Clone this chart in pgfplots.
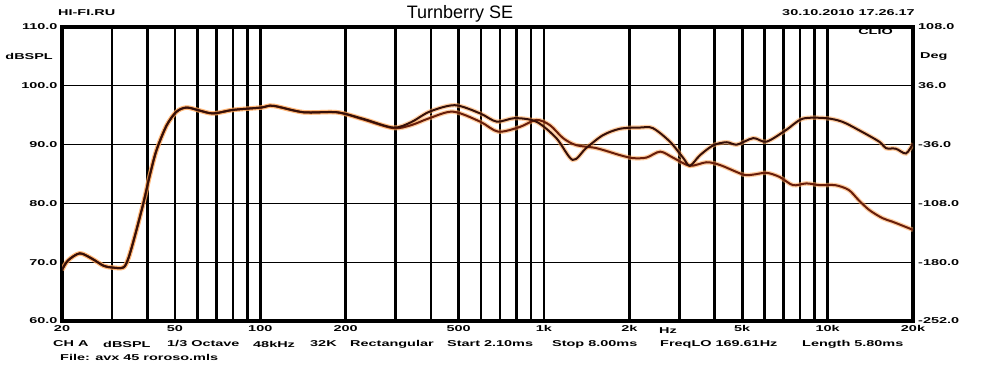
\documentclass[border=0pt]{standalone}
\usepackage{fontspec}
\setmainfont{Liberation Sans}
\newfontfamily\clio[FakeStretch=1.7]{Liberation Sans}
\usepackage{pgfplots}
\pgfplotsset{compat=1.18}
\usepackage{pgfplotstable}

\pgfplotstableread{
f dB
20 68.7
21 70.3
23.1 71.5
25.5 70.6
28 69.4
30 69.1
32.9 69.1
34.3 70.7
36.2 74.6
38.7 80.0
40.8 84.8
43.1 89.1
46.8 93.3
50.7 95.6
55 96.3
61 95.8
68.2 95.3
80.2 95.9
100.7 96.3
111 96.6
142 95.5
186 95.5
230 94.4
294 92.9
340 93.8
395 95.6
485 96.7
596 95.3
682 93.9
790 94.5
940 93.9
1106 91.1
1262 87.4
1408 89.4
1614 91.6
1856 92.7
2178 92.9
2420 92.8
2780 90.5
3100 87.7
3270 86.4
3550 88.2
3960 89.9
4410 90.4
4790 90.0
5470 91.1
6090 90.5
7150 92.5
8160 94.4
9840 94.5
11240 93.9
12840 92.5
15200 90.5
16040 89.4
17400 89.3
18900 88.5
20000 90.2
}\curveA

\pgfplotstableread{
f dB
20 68.7
21 70.3
23.1 71.5
25.5 70.6
28 69.4
30 69.1
32.9 69.1
34.3 70.7
36.2 74.6
38.7 80.0
40.8 84.8
43.1 89.1
46.8 93.3
50.7 95.6
55 96.3
61 95.8
68.2 95.3
80.2 95.9
100.7 96.3
111 96.6
142 95.5
186 95.5
230 94.3
294 92.8
340 93.3
395 94.5
478 95.6
596 93.9
690 92.2
822 93.0
940 94.2
1050 93.3
1168 91.1
1300 89.9
1530 89.4
1856 88.2
2060 87.7
2300 87.8
2570 88.8
2870 87.7
3270 86.4
3750 87.0
4190 86.5
5040 84.9
5470 84.9
6090 85.2
6770 84.5
7550 83.1
8420 83.4
9400 83.1
10640 83.1
11860 82.3
12840 80.6
14000 78.9
15600 77.5
16900 76.9
18400 76.2
20000 75.5
}\curveB

\definecolor{glow}{RGB}{255,165,85}
\definecolor{darkA}{RGB}{55,16,8}
\definecolor{darkB}{RGB}{105,30,10}

\begin{document}
\begin{tikzpicture}
\path[use as bounding box] (-62pt,-54pt) rectangle (921pt,321pt);
\begin{axis}[
  at={(0pt,0pt)}, anchor=south west,
  scale only axis, width=851pt, height=294pt,
  xmode=log, xmin=20, xmax=20000, ymin=60, ymax=110,
  axis line style={line width=4.5pt},
  xtick={20,50,100,200,500,1000,2000,5000,10000,20000},
  xticklabels={20,50,100,200,500,1k,2k,5k,10k,20k},
  minor xtick={30,40,60,70,80,90,300,400,600,700,800,900,3000,4000,6000,7000,8000,9000},
  ytick={60,70,80,90,100,110},
  yticklabels={60.0,70.0,80.0,90.0,100.0,110.0},
  extra y ticks={70,80,90,100},
  extra y tick labels={},
  extra y tick style={grid=major, major grid style={line width=1.3pt, black}},
  xmajorgrids, xminorgrids,
  major grid style={line width=2.6pt, black},
  minor grid style={line width=2.6pt, black},
  major tick length=0pt, minor tick length=0pt,
  tick style={draw=none},
  ticklabel style={font=\clio\bfseries\fontsize{8.5}{9}\selectfont},
  xticklabel style={yshift=-1pt},
  yticklabel style={xshift=-1pt},
  clip=true,
]
\addplot[glow, opacity=0.55, line width=4.5pt, smooth] table[x=f,y=dB] {\curveB};
\addplot[glow, opacity=0.55, line width=4.5pt, smooth] table[x=f,y=dB] {\curveA};
\addplot[darkB, line width=2pt, smooth] table[x=f,y=dB] {\curveB};
\addplot[darkA, line width=2pt, smooth] table[x=f,y=dB] {\curveA};
\end{axis}
\begin{scope}[every node/.style={font=\clio\bfseries\fontsize{8.5}{9}\selectfont, inner sep=0pt}]
% top
\node[anchor=west] at (-4pt,308pt) {HI-FI.RU};
\node[anchor=east] at (853pt,308pt) {30.10.2010 17.26.17};
\node[anchor=east] at (831pt,289pt) {CLIO};
\node[anchor=east] at (-9pt,265pt) {dBSPL};
% right axis
\node[anchor=west] at (856pt,294pt) {108.0};
\node[anchor=west] at (858pt,265pt) {Deg};
\node[anchor=west] at (856pt,235pt) {36.0};
\node[anchor=west] at (856pt,176pt) {-36.0};
\node[anchor=west] at (856pt,117.6pt) {-108.0};
\node[anchor=west] at (856pt,58.8pt) {-180.0};
\node[anchor=west] at (856pt,0pt) {-252.0};
% Hz label
\node at (606pt,-9.5pt) {Hz};
% bottom line
\node[anchor=west] at (-9pt,-23pt) {CH A};
\node[anchor=west] at (41pt,-23pt) {dBSPL};
\node[anchor=west] at (105pt,-23pt) {1/3 Octave};
\node[anchor=west] at (191pt,-23pt) {48kHz};
\node[anchor=west] at (248pt,-23pt) {32K};
\node[anchor=west] at (288pt,-23pt) {Rectangular};
\node[anchor=west] at (385pt,-23pt) {Start 2.10ms};
\node[anchor=west] at (490pt,-23pt) {Stop 8.00ms};
\node[anchor=west] at (598pt,-23pt) {FreqLO 169.61Hz};
\node[anchor=west] at (740pt,-23pt) {Length 5.80ms};
\node[anchor=west] at (-2pt,-36pt) {File: avx 45 roroso.mls};
\end{scope}
\node[font=\fontsize{18}{20}\selectfont, inner sep=0pt] at (398pt,307pt) {Turnberry SE};
\end{tikzpicture}
\end{document}
